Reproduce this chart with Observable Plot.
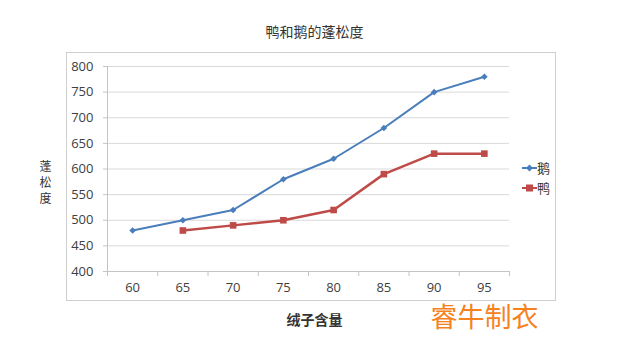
<!DOCTYPE html>
<html><head><meta charset="utf-8">
<script src="https://cdn.jsdelivr.net/npm/d3@7"></script>
<script src="https://cdn.jsdelivr.net/npm/@observablehq/plot@0.6"></script>
<style>
body{margin:0;background:#fff;}
#wrap{position:relative;width:631px;height:351px;overflow:hidden;background:#fff;}
#frame{position:absolute;left:66px;top:52px;width:490px;height:249px;border:1.5px solid #cfcfcf;box-sizing:border-box;}
#wrap svg{position:absolute;left:0;top:0;}
#legend{position:absolute;left:518px;top:158px;}
</style>
</head><body>
<div id="wrap"><div id="frame"></div></div>
<script>
const title = "鸭和鹅的蓬松度";
const xTitle = "绒子含量";
const yTitle = "蓬松度";
const watermark = "睿牛制衣";
const seriesNames = ["鹅", "鸭"];
const gooseX = [60, 65, 70, 75, 80, 85, 90, 95];
const gooseY = [480, 500, 520, 580, 620, 680, 750, 780];
const duckX = [65, 70, 75, 80, 85, 90, 95];
const duckY = [480, 490, 500, 520, 590, 630, 630];
const xCategories = [60, 65, 70, 75, 80, 85, 90, 95];
const yTicks = [400, 450, 500, 550, 600, 650, 700, 750, 800];

const colors = {"鹅": "#4a7ebb", "鸭": "#be4b48"};
const goose = gooseX.map((x, i) => ({x, y: gooseY[i]}));
const duck = duckX.map((x, i) => ({x, y: duckY[i]}));
const step = xCategories[1] - xCategories[0];
const xDomain = [xCategories[0] - step / 2, xCategories[xCategories.length - 1] + step / 2];
const xBounds = d3.range(xCategories.length + 1).map(i => xDomain[0] + i * step);
const numFont = "'Open Sans', 'Noto Sans', sans-serif";
const cjkFont = "'Noto Sans CJK SC', sans-serif";

const chart = Plot.plot({
  width: 631, height: 351,
  marginLeft: 107, marginRight: 122, marginTop: 66, marginBottom: 80,
  style: {fontFamily: numFont, fontSize: "13px", color: "#404040", background: "transparent", overflow: "visible"},
  x: {domain: xDomain, axis: null},
  y: {domain: [yTicks[0], yTicks[yTicks.length - 1]], axis: null},
  marks: [
    Plot.ruleY(yTicks.slice(1), {stroke: "#d9d9d9", strokeWidth: 1}),
    Plot.ruleY([yTicks[0]], {stroke: "#c4c4c4", strokeWidth: 1}),
    Plot.ruleX([xDomain[0]], {stroke: "#c4c4c4", strokeWidth: 1}),
    Plot.axisY({ticks: yTicks, tickSize: 4, tickPadding: 10, stroke: "#c4c4c4", fill: "#404040", fontSize: 13, label: null}),
    Plot.axisX({ticks: xBounds, tickSize: 5, tickFormat: () => "", stroke: "#c4c4c4", label: null}),
    Plot.axisX({ticks: xCategories, tickSize: 0, tickPadding: 11, fill: "#404040", fontSize: 13, label: null}),
    Plot.line(goose, {x: "x", y: "y", stroke: colors["鹅"], strokeWidth: 2}),
    Plot.dot(goose, {x: "x", y: "y", symbol: "diamond2", r: 3, fill: colors["鹅"], stroke: "none"}),
    Plot.line(duck, {x: "x", y: "y", stroke: colors["鸭"], strokeWidth: 2.5}),
    Plot.dot(duck, {x: "x", y: "y", symbol: "square2", r: 4.2, fill: colors["鸭"], stroke: "none"}),
    Plot.text([title], {frameAnchor: "top", dy: -39, text: d => d, fontFamily: cjkFont, fontSize: 14, fill: "#333", dx: 6}),
    Plot.text([xTitle], {frameAnchor: "bottom", dy: 53, text: d => d, fontFamily: cjkFont, fontSize: 14, fill: "#333", fontWeight: "bold", dx: 6}),
    Plot.text([yTitle.split("").join("\n")], {frameAnchor: "left", dx: -68, dy: 13, text: d => d, fontFamily: cjkFont, fontSize: 12, fill: "#333", lineHeight: 1.3}),
    Plot.text([watermark], {frameAnchor: "bottom-right", dx: 29, dy: 55, text: d => d, textAnchor: "end", fontFamily: cjkFont, fontSize: 27, fill: "#f5821f"})
  ]
});
document.getElementById("wrap").appendChild(chart);

// legend
const lg = d3.create("svg").attr("width", 40).attr("height", 40);
seriesNames.forEach((name, i) => {
  const g = lg.append("g").attr("transform", `translate(0,${10 + i * 20})`);
  g.append("line").attr("x1", 4).attr("x2", 19).attr("y1", 0).attr("y2", 0).attr("stroke", colors[name]).attr("stroke-width", 2);
  if (i === 0) g.append("path").attr("d", d3.symbol(d3.symbolDiamond2, 30)()).attr("transform", "translate(11.5,0)").attr("fill", colors[name]);
  else g.append("rect").attr("x", 8).attr("y", -3.5).attr("width", 7).attr("height", 7).attr("fill", colors[name]);
  g.append("text").attr("x", 19).attr("y", 0).attr("dy", "0.35em").attr("font-family", "'Noto Sans CJK SC', sans-serif").attr("font-size", 13).attr("fill", "#333").text(name);
});
const ld = document.createElement("div");
ld.id = "legend";
ld.appendChild(lg.node());
document.getElementById("wrap").appendChild(ld);
</script>
</body></html>
